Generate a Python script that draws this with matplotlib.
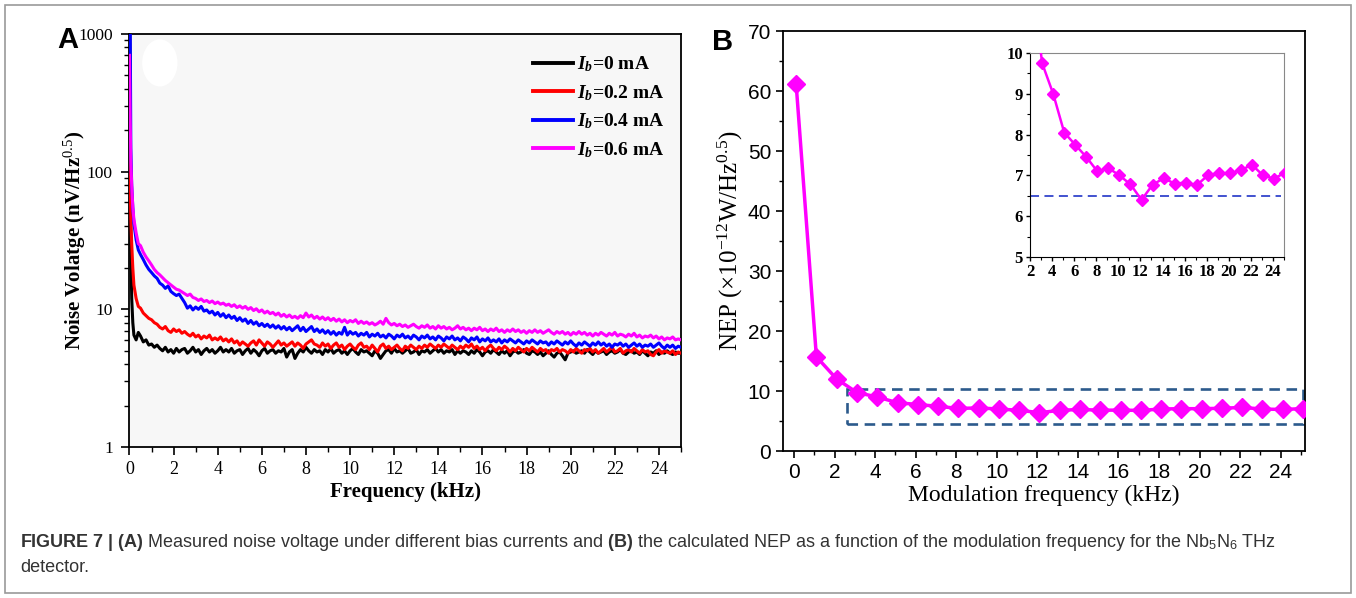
import numpy as np
import matplotlib.pyplot as plt
from matplotlib.patches import Rectangle, Ellipse
from matplotlib.ticker import MultipleLocator, LogLocator, NullFormatter

plt.rcParams['font.family'] = 'Liberation Serif'
plt.rcParams['mathtext.fontset'] = 'custom'
plt.rcParams['mathtext.rm'] = 'Liberation Serif'
plt.rcParams['mathtext.it'] = 'Liberation Serif:italic:bold'
plt.rcParams['mathtext.bf'] = 'Liberation Sans:bold'
plt.rcParams['mathtext.sf'] = 'Liberation Sans'

# ---- panel A: noise spectra (kHz, nV/Hz^0.5) ----
freq_early = [0.0, 0.03, 0.06, 0.1, 0.15, 0.2, 0.3, 0.4]
freq_main = np.arange(0.5, 25.01, 0.125)   # one row below = 1 kHz

black_early = [2000, 400, 30, 12, 8, 6.5, 6.0, 6.8]
black_main = [
    6.4, 5.8, 6.0, 5.5, 5.6, 5.3, 5.5, 5.2,
    5.0, 5.3, 4.9, 5.1, 4.8, 5.2, 4.9, 5.1,
    5.2, 4.8, 5.0, 5.3, 4.9, 5.1, 4.7, 5.0,
    5.2, 4.9, 5.1, 4.8, 5.0, 5.3, 4.9, 5.1,
    4.9, 5.2, 4.8, 5.0, 5.1, 4.7, 5.0, 5.2,
    4.8, 5.1, 4.9, 4.6, 5.0, 5.2, 4.8, 5.0,
    5.1, 4.8, 5.0, 4.9, 5.2, 4.5, 4.9, 5.1,
    4.4, 4.8, 5.1, 4.9, 5.3, 5.0, 4.8, 5.1,
    4.9, 5.0, 4.7, 5.1, 4.9, 5.2, 4.8, 5.0,
    5.1, 4.8, 5.0, 4.7, 5.0, 5.2, 4.9, 4.7,
    5.1, 4.9, 5.0, 4.8, 4.6, 5.0, 4.8, 4.4,
    4.7, 5.0, 5.1, 4.8, 5.2, 4.9, 5.0, 4.8,
    5.0, 5.2, 4.8, 4.9, 5.1, 4.7, 5.0, 4.9,
    5.1, 4.8, 5.0, 5.2, 4.9, 5.1, 4.8, 5.0,
    4.9, 5.1, 4.7, 5.0, 4.8, 5.0, 4.9, 4.7,
    5.0, 4.8, 5.1, 4.9, 4.6, 4.9, 5.0, 4.8,
    5.1, 4.9, 4.7, 5.0, 4.8, 5.0, 4.6, 4.9,
    5.0, 4.8, 4.9, 5.1, 4.8, 4.7, 5.0, 4.9,
    4.7, 4.9, 4.6, 4.8, 5.0, 4.7, 4.5, 4.8,
    4.9, 4.6, 4.3, 4.8, 4.9, 5.0, 4.8, 4.9,
    5.0, 4.8, 5.1, 4.9, 4.7, 5.0, 4.8, 4.9,
    5.0, 4.7, 4.9, 5.0, 4.8, 4.9, 5.1, 4.8,
    4.7, 4.9, 5.0, 4.8, 4.9, 4.7, 5.0, 4.8,
    4.6, 4.9, 4.8, 5.0, 4.7, 4.9, 4.8, 5.0,
    4.8, 4.7, 4.9, 4.8, 4.8,
]

red_early = [300, 80, 45, 30, 20, 15, 12, 10.5]
red_main = [
    10.2, 9.4, 9.0, 8.6, 8.4, 8.0, 7.8, 7.4,
    7.2, 7.5, 7.0, 6.8, 7.2, 6.9, 7.1, 6.7,
    6.9, 6.6, 6.4, 6.7, 6.3, 6.5, 6.1, 6.4,
    6.2, 6.5, 6.0, 6.2, 6.0, 6.3, 5.9, 6.1,
    5.8, 6.1, 5.7, 5.9, 5.5, 5.8, 5.6, 5.4,
    5.7, 5.9, 5.5, 6.0, 5.7, 5.4, 5.8, 5.6,
    5.3, 5.6, 5.9, 5.5, 5.7, 5.4, 5.6, 5.8,
    5.4, 5.7, 5.5, 5.2, 5.6, 5.8, 6.0, 5.6,
    5.5, 5.3, 5.7, 5.4, 5.6, 5.2, 5.5, 5.7,
    5.3, 5.5, 5.1, 5.4, 5.6, 5.3, 5.1, 5.5,
    5.7, 5.3, 5.4, 5.1, 5.5, 5.2, 4.9, 5.4,
    5.6, 5.2, 5.4, 5.1, 5.3, 5.5, 5.2, 5.0,
    5.4, 5.2, 5.5, 5.3, 5.1, 5.4, 5.2, 5.5,
    5.3, 5.6, 5.4, 5.2, 5.5, 5.3, 5.6, 5.4,
    5.2, 5.5, 5.3, 5.1, 5.4, 5.2, 5.5, 5.3,
    5.6, 5.2, 5.4, 5.1, 5.3, 5.0, 5.3, 5.5,
    5.2, 5.0, 5.3, 5.1, 5.4, 5.2, 4.9, 5.2,
    5.0, 5.3, 5.1, 4.9, 5.2, 5.0, 5.3, 5.1,
    4.9, 5.2, 5.0, 5.1, 4.8, 5.1, 5.0, 5.2,
    4.9, 5.1, 5.0, 4.8, 5.1, 4.9, 5.2, 5.0,
    4.8, 5.1, 5.0, 5.2, 4.9, 5.1, 4.8, 5.0,
    5.2, 4.9, 5.1, 5.3, 4.9, 5.0, 5.2, 4.8,
    5.0, 5.1, 4.9, 5.2, 5.0, 4.8, 5.1, 4.9,
    5.0, 4.7, 4.6, 4.9, 5.1, 4.8, 5.0, 4.9,
    4.8, 5.0, 4.7, 4.9, 4.8,
]

blue_early = [3000, 1500, 150, 80, 55, 42, 32, 27]
blue_main = [
    25, 23, 21, 19.5, 18.5, 17.5, 16.8, 15.5,
    15.0, 14.2, 14.8, 13.5, 13.0, 12.6, 12.9, 12.0,
    11.2, 10.2, 10.6, 9.9, 10.4, 10.0, 10.5, 9.7,
    9.9, 9.4, 9.7, 9.1, 9.5, 8.9, 9.3, 8.7,
    9.1, 8.6, 8.9, 8.3, 8.7, 8.2, 8.5, 7.9,
    8.3, 7.8, 8.1, 7.6, 7.9, 7.5, 7.8, 7.4,
    7.7, 7.3, 7.6, 7.2, 7.5, 7.1, 7.4, 7.0,
    7.3, 7.6, 7.0, 7.4, 6.9, 7.2, 7.5, 6.9,
    7.2, 6.8, 7.1, 6.7, 7.0, 6.6, 6.9, 6.5,
    6.8, 6.6, 7.4, 6.5, 6.9, 6.6, 6.8, 6.4,
    6.7, 6.5, 6.8, 6.3, 6.6, 6.4, 6.7, 6.3,
    6.5, 6.2, 6.6, 6.4, 6.1, 6.5, 6.3, 6.6,
    6.2, 6.4, 6.1, 6.5, 6.3, 6.0, 6.4, 6.2,
    6.5, 6.1, 6.3, 6.0, 6.4, 6.2, 5.9, 6.3,
    6.1, 6.4, 6.0, 6.2, 5.9, 6.3, 6.1, 5.8,
    6.2, 6.0, 6.3, 5.8, 6.1, 5.9, 6.2, 5.8,
    6.0, 5.8, 6.1, 5.7, 6.0, 5.8, 6.1, 5.9,
    5.7, 6.0, 5.8, 5.6, 5.9, 5.7, 6.0, 5.8,
    5.6, 5.9, 5.7, 5.8, 5.5, 5.8, 5.6, 5.9,
    5.7, 5.5, 5.8, 5.6, 5.9, 5.6, 5.4, 5.7,
    5.5, 5.8, 5.6, 5.4, 5.7, 5.5, 5.8, 5.5,
    5.7, 5.4, 5.6, 5.3, 5.6, 5.5, 5.7, 5.4,
    5.6, 5.3, 5.5, 5.7, 5.4, 5.6, 5.3, 5.5,
    5.4, 5.6, 5.3, 5.5, 5.7, 5.4, 5.2, 5.5,
    5.3, 5.5, 5.2, 5.4, 5.3,
]

magenta_early = [700, 250, 120, 80, 55, 45, 36, 30]
magenta_main = [
    29, 26, 24, 22.5, 21, 19.5, 18.5, 17.8,
    17.0, 16.2, 15.6, 15.0, 14.5, 14.0, 13.8, 13.4,
    13.0, 12.6, 12.9, 12.2, 12.0, 11.6, 11.9, 11.4,
    11.6, 11.2, 11.5, 11.0, 11.3, 10.9, 11.1, 10.7,
    10.9, 10.5, 10.8, 10.3, 10.6, 10.2, 10.5, 10.0,
    10.3, 9.8, 10.1, 9.6, 9.9, 9.4, 9.7, 9.3,
    9.5, 9.1, 9.4, 8.9, 9.2, 8.8, 9.1, 8.7,
    8.9, 8.6, 9.0, 8.7, 9.4, 8.8, 9.1, 8.6,
    8.9, 8.5, 8.8, 8.4, 8.7, 8.3, 8.6, 8.2,
    8.5, 8.1, 8.4, 8.0, 8.3, 8.1, 8.4, 7.9,
    8.2, 7.9, 8.1, 7.8, 8.0, 7.7, 7.9, 8.2,
    7.8, 8.6, 8.0, 7.7, 7.9, 7.6, 7.8, 7.5,
    7.7, 7.4, 7.6, 7.8, 7.5, 7.3, 7.6, 7.4,
    7.7, 7.3, 7.5, 7.2, 7.6, 7.3, 7.5, 7.2,
    7.4, 7.1, 7.3, 7.6, 7.2, 7.4, 7.1, 7.3,
    7.0, 7.3, 7.1, 7.4, 7.0, 7.2, 6.9, 7.2,
    7.0, 7.3, 6.9, 7.1, 6.8, 7.1, 6.9, 7.2,
    6.9, 7.1, 6.8, 7.0, 6.7, 7.0, 6.8, 7.1,
    6.8, 7.0, 6.7, 6.9, 7.1, 6.8, 6.6, 6.9,
    6.7, 6.9, 6.6, 6.8, 6.5, 6.8, 6.6, 6.9,
    6.6, 6.8, 6.5, 6.7, 6.4, 6.7, 6.5, 6.8,
    6.6, 6.4, 6.7, 6.5, 6.8, 6.4, 6.6, 6.5,
    6.3, 6.6, 6.4, 6.7, 6.3, 6.5, 6.2, 6.4,
    6.3, 6.5, 6.2, 6.4, 6.1, 6.3, 6.0, 6.2,
    6.1, 6.3, 6.0, 6.1, 6.0,
]

series_a = [
    (r"$\mathit{I_b}$=0 mA", "black", black_early, black_main),
    (r"$\mathit{I_b}$=0.2 mA", "#ff0000", red_early, red_main),
    (r"$\mathit{I_b}$=0.4 mA", "#0000ff", blue_early, blue_main),
    (r"$\mathit{I_b}$=0.6 mA", "#ff00ff", magenta_early, magenta_main),
]

# ---- panel B: NEP vs modulation frequency ----
mod_freq = [0.1, 1.1, 2.1, 3.1, 4.1, 5.1, 6.1, 7.1, 8.1, 9.1, 10.1, 11.1, 12.1,
            13.1, 14.1, 15.1, 16.1, 17.1, 18.1, 19.1, 20.1, 21.1, 22.1, 23.1,
            24.1, 25.1]
nep = [61.2, 15.7, 12.0, 9.75, 9.0, 8.05, 7.75, 7.45, 7.1, 7.18, 7.0, 6.78,
       6.4, 6.77, 6.93, 6.8, 6.82, 6.76, 7.0, 7.06, 7.05, 7.13, 7.26, 7.0,
       6.92, 7.07]
nep_ref = 6.5

fig = plt.figure(figsize=(13.56, 5.98), dpi=100)

# outer frame
fig.patches.append(Rectangle((5 / 1356, 5 / 598), 1346 / 1356, 588 / 598,
                             transform=fig.transFigure, fill=False,
                             edgecolor='#9a9a9a', linewidth=1.2))

# ---------------- panel A ----------------
ax1 = fig.add_axes([0.0955, 0.2525, 0.4067, 0.6906])
ax1.set_facecolor('#f7f7f7')
ax1.add_patch(Ellipse((0.055, 0.93), 0.064, 0.114, transform=ax1.transAxes,
                      facecolor='white', edgecolor='none', zorder=1))
for label, color, early, main in series_a:
    x = np.concatenate([freq_early, freq_main])
    y = np.concatenate([early, main])
    ax1.plot(x, y, color=color, lw=2.2, label=label, zorder=3)
ax1.set_yscale('log')
ax1.set_ylim(1, 1000)
ax1.set_xlim(0, 25)
ax1.xaxis.set_major_locator(MultipleLocator(2))
ax1.xaxis.set_minor_locator(MultipleLocator(1))
ax1.yaxis.set_minor_locator(LogLocator(base=10, subs=np.arange(2, 10)))
ax1.yaxis.set_minor_formatter(NullFormatter())
ax1.set_yticks([1, 10, 100, 1000])
ax1.set_yticklabels(['1', '10', '100', '1000'])
ax1.tick_params(axis='both', which='major', direction='out', length=6,
                width=1.2, labelsize=13, top=False, right=False, pad=4)
ax1.tick_params(axis='both', which='minor', direction='out', length=3.5,
                width=1, top=False, right=False)
ax1.tick_params(axis='y', which='major', labelsize=12.5, pad=6)
for s in ax1.spines.values():
    s.set_linewidth(1.3)
ax1.set_xlabel('Frequency (kHz)', fontsize=15, fontweight='bold', labelpad=3)
ax1.set_ylabel(r'Noise Volatge (nV/Hz$^{0.5}$)', fontsize=15,
               fontweight='bold')
ax1.yaxis.set_label_coords(-0.076, 0.5)
leg = ax1.legend(loc='upper left', bbox_to_anchor=(0.732, 0.95), frameon=False,
                 prop={'weight': 'bold', 'size': 14}, handlelength=2.05,
                 labelspacing=0.45, handletextpad=0.2, borderpad=0,
                 borderaxespad=0)
for line in leg.get_lines():
    line.set_linewidth(2.8)

fig.text(57 / 1356, 1 - 48 / 598, 'A', fontsize=21, fontweight='bold',
         family='Liberation Sans')

# ---------------- panel B ----------------
ax2 = fig.add_axes([0.5774, 0.2458, 0.385, 0.7023])
ax2.plot(mod_freq, nep, color='#ff00ff', lw=2.5, marker='D', ms=9.5, zorder=3)
ax2.add_patch(Rectangle((2.6, 4.5), 22.5, 5.8, fill=False, edgecolor='#2c5a8c',
                        linestyle=(0, (4, 2.5)), linewidth=1.9, zorder=2,
                        clip_on=False))
ax2.set_xlim(-0.55, 25.2)
ax2.set_ylim(0, 70)
ax2.xaxis.set_major_locator(MultipleLocator(2))
ax2.xaxis.set_minor_locator(MultipleLocator(1))
ax2.yaxis.set_major_locator(MultipleLocator(10))
ax2.yaxis.set_minor_locator(MultipleLocator(5))
ax2.tick_params(axis='both', which='major', direction='out', length=5,
                width=1.2, labelsize=15, top=False, right=False)
ax2.tick_params(axis='both', which='minor', direction='out', length=3,
                width=1, top=False, right=False)
for lab in ax2.get_xticklabels() + ax2.get_yticklabels():
    lab.set_family('Liberation Sans')
for s in ax2.spines.values():
    s.set_linewidth(1.3)
ax2.set_xlabel('Modulation frequency (kHz)', fontsize=17, labelpad=2)
ax2.set_ylabel(r'NEP (×10$^{-12}$W/Hz$^{0.5}$)', fontsize=18, labelpad=2)

fig.text(712 / 1356, 1 - 50 / 598, 'B', fontsize=21, fontweight='bold',
         family='Liberation Sans')

# inset
ax3 = fig.add_axes([1030 / 1356, 1 - 257 / 598, 254 / 1356, 204 / 598])
ax3.plot(mod_freq, nep, color='#ff00ff', lw=1.8, marker='D', ms=6, zorder=3)
ax3.axhline(nep_ref, xmin=0, xmax=0.99, color='#3344cc', lw=1.3,
            linestyle=(0, (5, 3)))
ax3.set_xlim(2, 25)
ax3.set_ylim(5, 10)
ax3.xaxis.set_major_locator(MultipleLocator(2))
ax3.xaxis.set_minor_locator(MultipleLocator(1))
ax3.yaxis.set_major_locator(MultipleLocator(1))
ax3.yaxis.set_minor_locator(MultipleLocator(0.5))
ax3.tick_params(axis='both', which='major', direction='out', length=3,
                width=1, labelsize=12, top=False, right=False, pad=2)
ax3.tick_params(axis='both', which='minor', direction='out', length=2,
                width=0.8, top=False, right=False)
for lab in ax3.get_xticklabels() + ax3.get_yticklabels():
    lab.set_fontweight('bold')
ax3.spines['top'].set_color('#888888')
ax3.spines['right'].set_color('#888888')

# caption
fig.text(20 / 1356, 1 - 547 / 598,
         r'$\mathbf{FIGURE\ 7\ |\ (A)}$ Measured noise voltage under different bias currents and '
         r'$\mathbf{(B)}$ the calculated NEP as a function of the modulation frequency for the '
         r'Nb$_{\mathsf{5}}$N$_{\mathsf{6}}$ THz',
         fontsize=13, family='Liberation Sans', color='#333333')
fig.text(20 / 1356, 1 - 572 / 598, 'detector.', fontsize=13,
         family='Liberation Sans', color='#333333')

fig.savefig('out.png', dpi=100)
